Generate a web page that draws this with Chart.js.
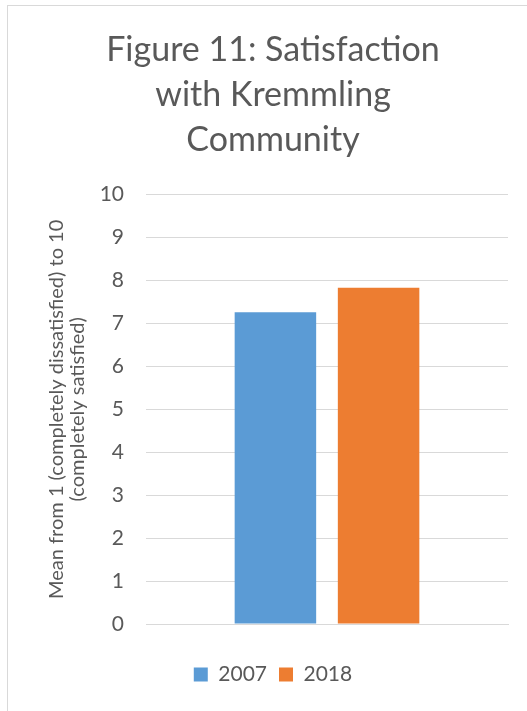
<!DOCTYPE html>
<html>
<head>
<meta charset="utf-8">
<script src="https://cdn.jsdelivr.net/npm/chart.js@4/dist/chart.umd.min.js"></script>
<style>
    html, body { margin: 0; padding: 0; background: #fff; overflow: hidden; }
    #frame {
        position: absolute;
        left: 7px;
        top: 5px;
        width: 528px;
        height: 720px;
        box-sizing: border-box;
        border: 1px solid #d9d9d9;
    }
    #chartBox { position: relative; width: 526px; height: 718px; }
</style>
</head>
<body>
<div id="frame"><div id="chartBox"><canvas id="satChart"></canvas></div></div>
<script>
// Data
const categories = ['Kremmling Community'];
const seriesNames = ['2007', '2018'];
const values2007 = [7.26];
const values2018 = [7.83];
const yTicks = [0, 1, 2, 3, 4, 5, 6, 7, 8, 9, 10];

// Colors
const blue = '#5b9bd5';
const orange = '#ed7d31';
const textColor = '#595959';
const gridColor = '#d9d9d9';
const fontName = 'Lato, "Open Sans", sans-serif';

const ctx = document.getElementById('satChart').getContext('2d');

const satChart = new Chart(ctx, {
    type: 'bar',
    data: {
        labels: categories,
        datasets: [
            {
                label: seriesNames[0],
                data: values2007,
                backgroundColor: blue,
                categoryPercentage: 0.57,
                barPercentage: 0.79
            },
            {
                label: seriesNames[1],
                data: values2018,
                backgroundColor: orange,
                categoryPercentage: 0.57,
                barPercentage: 0.79
            }
        ]
    },
    options: {
        responsive: true,
        maintainAspectRatio: false,
        animation: false,
        layout: {
            padding: { left: 30, right: 26, top: 0, bottom: 29 }
        },
        plugins: {
            title: {
                display: true,
                text: ['Figure 11: Satisfaction', 'with Kremmling', 'Community'],
                color: textColor,
                font: { family: fontName, size: 34, weight: 'normal', lineHeight: 1.32 },
                padding: { top: 22, bottom: 32 }
            },
            legend: {
                position: 'bottom',
                labels: {
                    color: textColor,
                    font: { family: fontName, size: 21 },
                    boxWidth: 14,
                    boxHeight: 14,
                    padding: 12
                }
            },
            tooltip: { enabled: false }
        },
        scales: {
            x: {
                ticks: { display: false },
                grid: { display: false },
                border: { color: gridColor, width: 1 },
                afterFit: (axis) => { axis.height = 28; }
            },
            y: {
                min: 0,
                max: 10,
                afterBuildTicks: (axis) => {
                    axis.ticks = yTicks.map(v => ({ value: v }));
                },
                afterFit: (axis) => { axis.width = 108; },
                ticks: {
                    color: textColor,
                    font: { family: fontName, size: 21 },
                    padding: 22
                },
                grid: { color: gridColor, drawTicks: false },
                border: { display: false },
                title: {
                    display: true,
                    text: ['Mean from 1 (completely dissatisfied) to 10', '(completely satisfied)'],
                    color: textColor,
                    font: { family: fontName, size: 20, lineHeight: 1.05 },
                    padding: { top: 8, bottom: 4 }
                }
            }
        }
    }
});
</script>
</body>
</html>
